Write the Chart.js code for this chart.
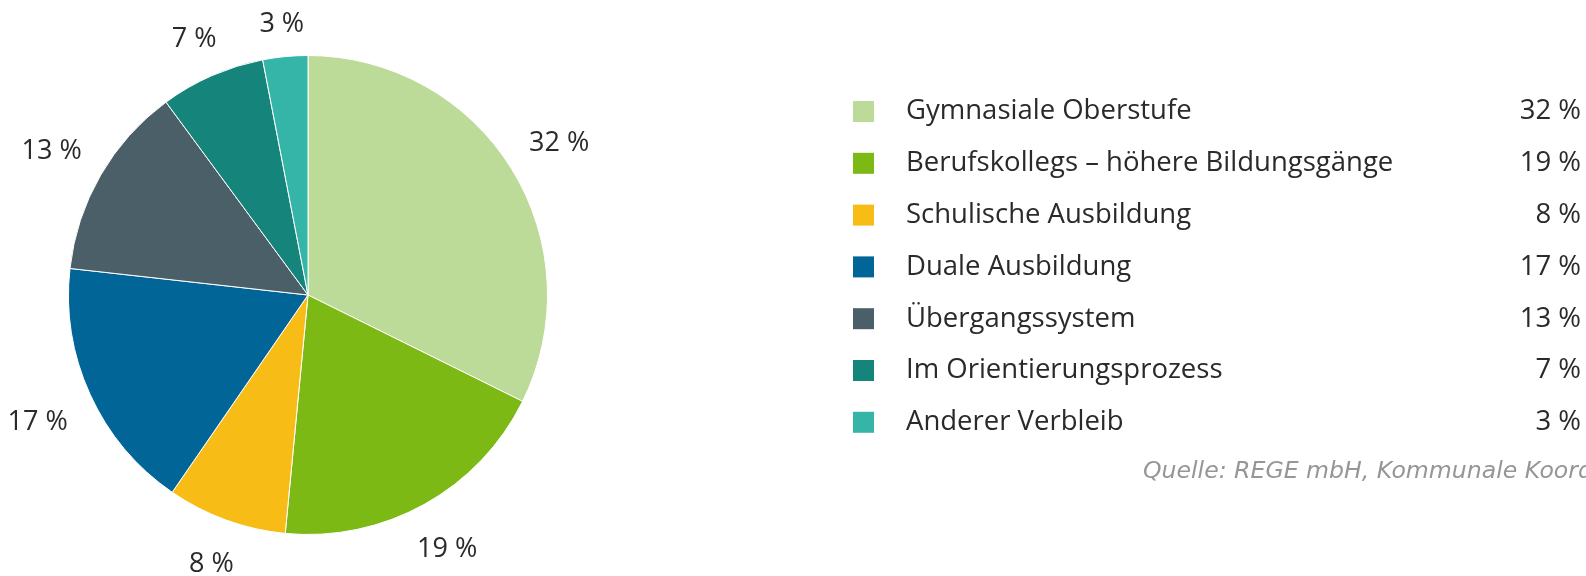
<!DOCTYPE html>
<html><head><meta charset="utf-8">
<script src="https://cdn.jsdelivr.net/npm/chart.js@4"></script>
<style>html,body{margin:0;padding:0;background:#fff;overflow:hidden}#wrap{width:1586px;height:576px;position:relative}</style>
</head><body><div id="wrap"><canvas id="c" width="1586" height="576"></canvas></div>
<script>
const categories = ["Gymnasiale Oberstufe", "Berufskollegs – höhere Bildungsgänge", "Schulische Ausbildung", "Duale Ausbildung", "Übergangssystem", "Im Orientierungsprozess", "Anderer Verbleib"];
const values = [32, 19, 8, 17, 13, 7, 3];
const colors = ["#bcda98", "#7db915", "#f8bc16", "#016697", "#4a5f67", "#15857b", "#34b5a8"];
const sourceText = "Quelle: REGE mbH, Kommunale Koordinierung";

const FONT = '"Open Sans", sans-serif';
const TEXT_COLOR = '#2a2a2a';

const labelsPlugin = {
  id: 'outsideLabels',
  afterDatasetsDraw(chart) {
    const ctx = chart.ctx;
    const meta = chart.getDatasetMeta(0);
    ctx.save();
    ctx.font = '27px ' + FONT;
    ctx.fillStyle = TEXT_COLOR;
    ctx.textAlign = 'center';
    ctx.textBaseline = 'middle';
    meta.data.forEach((arc, i) => {
      const p = arc.getProps(['x', 'y', 'startAngle', 'endAngle', 'outerRadius'], true);
      const mid = (p.startAngle + p.endAngle) / 2;
      const r = p.outerRadius + 34 + 26 * Math.abs(Math.cos(mid));
      ctx.fillText(values[i] + ' %', p.x + Math.cos(mid) * r, p.y + Math.sin(mid) * r + 4);
    });
    ctx.restore();
  }
};

const legendPlugin = {
  id: 'sideLegend',
  afterDraw(chart) {
    const ctx = chart.ctx;
    const ds = chart.data.datasets[0];
    ctx.save();
    const x0 = 853, sw = 21, tx = 906, vx = 1581, y0 = 111.5, step = 51.8;
    ctx.textBaseline = 'middle';
    chart.data.labels.forEach((lab, i) => {
      const y = y0 + i * step;
      ctx.fillStyle = ds.backgroundColor[i];
      ctx.fillRect(x0, y - sw / 2, sw, sw);
      ctx.fillStyle = TEXT_COLOR;
      ctx.font = '27.5px ' + FONT;
      ctx.textAlign = 'left';
      ctx.fillText(lab, tx, y);
      ctx.textAlign = 'right';
      ctx.fillText(ds.data[i] + ' %', vx, y);
    });
    ctx.font = 'oblique 23.6px "DejaVu Sans", sans-serif';
    ctx.fillStyle = '#969696';
    ctx.textAlign = 'left';
    ctx.fillText(sourceText, 1143, 472);
    ctx.restore();
  }
};

new Chart(document.getElementById('c'), {
  type: 'pie',
  data: {
    labels: categories,
    datasets: [{
      data: values,
      backgroundColor: colors,
      borderColor: '#ffffff',
      borderWidth: 1
    }]
  },
  options: {
    responsive: false,
    devicePixelRatio: 1,
    animation: false,
    layout: { padding: { left: 68, right: 1038, top: 55, bottom: 41 } },
    plugins: { legend: { display: false }, tooltip: { enabled: false } }
  },
  plugins: [labelsPlugin, legendPlugin]
});
</script></body></html>
